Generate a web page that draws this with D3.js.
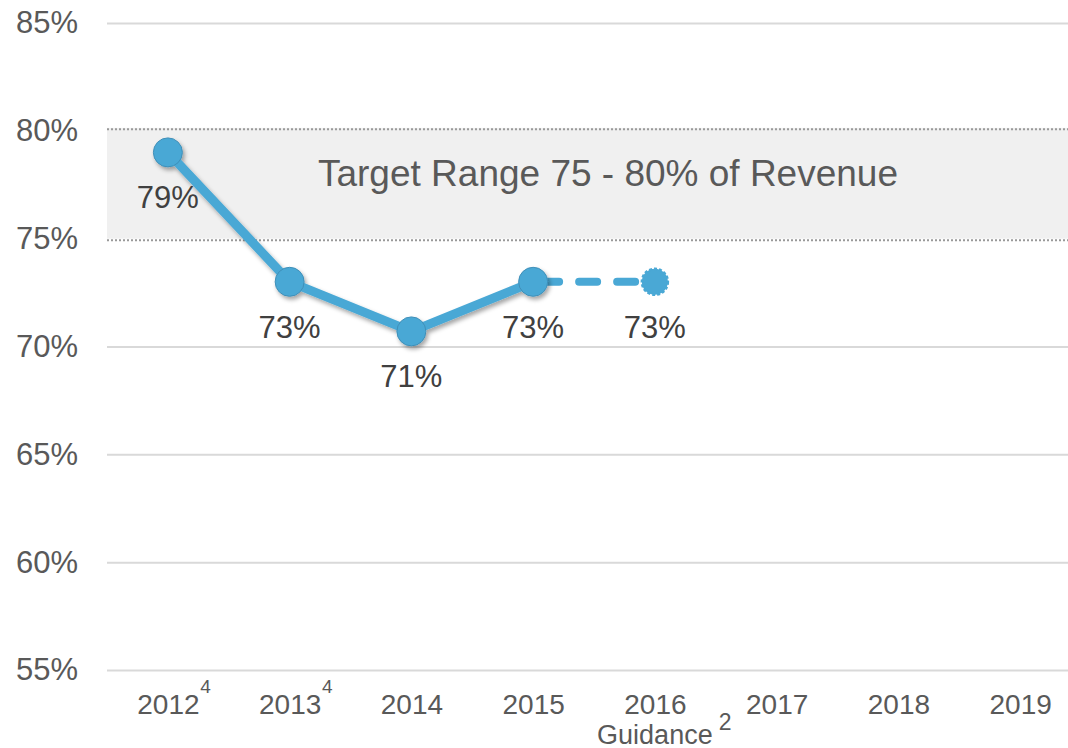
<!DOCTYPE html>
<html>
<head>
<meta charset="utf-8">
<script src="https://cdn.jsdelivr.net/npm/d3@7"></script>
<style>
  html, body { margin: 0; padding: 0; background: #fff; }
  svg { display: block; font-family: "Liberation Sans", Arial, sans-serif; }
</style>
</head>
<body>
<div id="chart"></div>
<script>
// chart data
const years = ['2012', '2013', '2014', '2015', '2016', '2017', '2018', '2019'];
const yearNotes = ['4', '4', '', '', '', '', '', ''];
const actualYears = ['2012', '2013', '2014', '2015'];
const actualValues = [79, 73, 70.7, 73];
const actualLabels = ['79%', '73%', '71%', '73%'];
const guidanceYears = ['2015', '2016'];
const guidanceValues = [73, 73];
const guidanceLabel = '73%';
const yTicks = [55, 60, 65, 70, 75, 80, 85];
const targetRange = [75, 80];
const targetText = 'Target Range 75 - 80% of Revenue';

const width = 1068, height = 748;
const blue = '#4aa8d5';
const font = '"Liberation Sans", Arial, sans-serif';

const svg = d3.select('#chart').append('svg')
    .attr('width', width)
    .attr('height', height);

const defs = svg.append('defs');
const shadow = defs.append('filter')
    .attr('id', 'shadow')
    .attr('x', '-20%').attr('y', '-20%')
    .attr('width', '150%').attr('height', '150%');
shadow.append('feDropShadow')
    .attr('dx', 2).attr('dy', 3)
    .attr('stdDeviation', 2.2)
    .attr('flood-color', '#000')
    .attr('flood-opacity', 0.35);

// scales
const x = d3.scalePoint()
    .domain(years)
    .range([107, 1081])
    .padding(0.5);

const y = d3.scaleLinear()
    .domain([55, 85])
    .range([670, 23]);

const plotLeft = 107, plotRight = 1068;

// target band
svg.append('rect')
    .attr('x', plotLeft)
    .attr('y', y(targetRange[1]) - 3)
    .attr('width', plotRight - plotLeft)
    .attr('height', y(targetRange[0]) - y(targetRange[1]) + 3)
    .attr('fill', '#f0f0f0');

// gridlines + y labels
const yAxis = svg.append('g')
    .attr('transform', `translate(${plotLeft},0)`)
    .call(d3.axisLeft(y)
        .tickValues(yTicks)
        .tickSize(-(plotRight - plotLeft))
        .tickPadding(29)
        .tickFormat(d => d + '%'));
yAxis.select('.domain').remove();
yAxis.selectAll('.tick line')
    .attr('stroke', d => targetRange.includes(d) ? '#999' : '#d9d9d9')
    .attr('stroke-width', 2)
    .attr('stroke-dasharray', d => targetRange.includes(d) ? '2 2' : null)
    .attr('transform', d => d === targetRange[1] ? 'translate(0,-2)' : (d === targetRange[0] ? 'translate(0,1)' : null));
yAxis.selectAll('.tick text')
    .attr('fill', '#595959')
    .attr('font-size', 31)
    .attr('font-family', font);

// target text
svg.append('text')
    .attr('x', 608)
    .attr('y', 186)
    .attr('text-anchor', 'middle')
    .attr('font-size', 37)
    .attr('fill', '#595959')
    .text(targetText);

// x axis labels
const xAxis = svg.append('g')
    .attr('transform', 'translate(0,670)')
    .call(d3.axisBottom(x).tickSize(0).tickPadding(24));
xAxis.select('.domain').remove();
xAxis.selectAll('.tick text')
    .attr('fill', '#595959')
    .attr('font-size', 28)
    .attr('font-family', font);
xAxis.selectAll('.tick').each(function(d, i) {
    const t = d3.select(this).select('text');
    const w = t.node().getComputedTextLength();
    if (yearNotes[i]) {
        d3.select(this).append('text')
            .attr('x', w / 2 + 6)
            .attr('y', 23)
            .attr('fill', '#595959')
            .attr('font-size', 19)
            .attr('font-family', font)
            .text(yearNotes[i]);
    }
});

// guidance note under 2016
const guidance = svg.append('text')
    .attr('x', x('2016'))
    .attr('y', 744)
    .attr('text-anchor', 'middle')
    .attr('font-size', 27)
    .attr('fill', '#595959')
    .text('Guidance');
const gw = guidance.node().getComputedTextLength();
svg.append('text')
    .attr('x', x('2016') + gw / 2 + 6)
    .attr('y', 730)
    .attr('font-size', 23)
    .attr('fill', '#595959')
    .text('2');

// guidance dashed line
const line = d3.line()
    .x(d => x(d[0]))
    .y(d => y(d[1]));

svg.append('path')
    .datum(guidanceYears.map((d, i) => [d, guidanceValues[i]]))
    .attr('d', line)
    .attr('fill', 'none')
    .attr('stroke', blue)
    .attr('stroke-width', 8)
    .attr('stroke-linecap', 'round')
    .attr('stroke-dasharray', '18 20')
    .attr('stroke-dashoffset', -8);

svg.append('circle')
    .attr('cx', x(guidanceYears[1]))
    .attr('cy', y(guidanceValues[1]))
    .attr('r', 13)
    .attr('fill', blue)
    .attr('stroke', blue)
    .attr('stroke-width', 2.5)
    .attr('stroke-dasharray', '3 2');

// actual series
const series = svg.append('g').attr('filter', 'url(#shadow)');
const pts = actualYears.map((d, i) => [d, actualValues[i]]);

series.append('path')
    .datum(pts)
    .attr('d', line)
    .attr('fill', 'none')
    .attr('stroke', blue)
    .attr('stroke-width', 9)
    .attr('stroke-linejoin', 'round');

series.selectAll('circle')
    .data(pts)
    .enter()
    .append('circle')
    .attr('cx', d => x(d[0]))
    .attr('cy', d => y(d[1]))
    .attr('r', 14.5)
    .attr('fill', blue)
    .attr('stroke', '#3f8fb8')
    .attr('stroke-width', 1);

// data labels
svg.selectAll('.dlabel')
    .data(pts)
    .enter()
    .append('text')
    .attr('class', 'dlabel')
    .attr('x', d => x(d[0]))
    .attr('y', d => y(d[1]) + 56)
    .attr('text-anchor', 'middle')
    .attr('font-size', 31)
    .attr('fill', '#404040')
    .text((d, i) => actualLabels[i]);

svg.append('text')
    .attr('x', x(guidanceYears[1]))
    .attr('y', y(guidanceValues[1]) + 56)
    .attr('text-anchor', 'middle')
    .attr('font-size', 31)
    .attr('fill', '#404040')
    .text(guidanceLabel);
</script>
</body>
</html>
